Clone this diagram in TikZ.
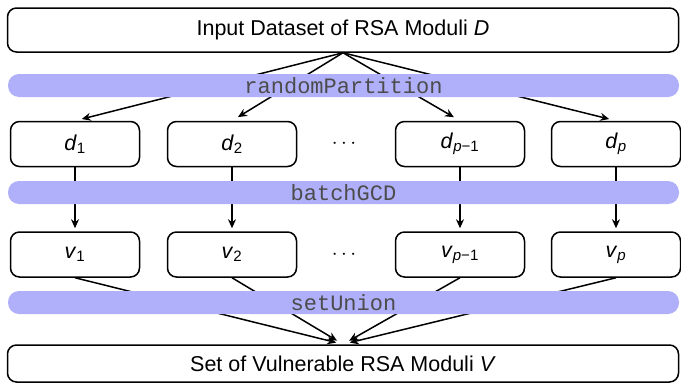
\documentclass[tikz,border=0pt]{standalone}
\usepackage{fontspec}
\setmainfont{Liberation Sans}
\newfontfamily\bandfont{Liberation Mono}
\usetikzlibrary{arrows.meta}
\definecolor{bandcol}{RGB}{176,176,250}
\newcommand\msub[2]{\textit{#1}\textsubscript{#2}}
\begin{document}
\begin{tikzpicture}[x=1pt,y=-1pt,
  box/.style={draw=black,line width=1.5pt,rounded corners=9pt,minimum height=45pt,inner sep=0pt,font=\fontsize{21.5}{24}\selectfont},
  part/.style={box,minimum width=129pt},
  band/.style={fill=bandcol,rounded corners=11pt,minimum width=671pt,minimum height=23pt,inner sep=0pt,text=black!70,font=\bandfont\fontsize{22}{22}\selectfont},
  conn/.style={line width=1.5pt,-{Stealth[length=9pt,width=8pt]}}]
\useasboundingbox (0,0) rectangle (681,383);
\node[box,minimum width=671pt,minimum height=44pt] (D) at (343,30) {Input Dataset of RSA Moduli \textit{D}};
\node[part] (d1) at (75,144) {\msub{d}{1}};
\node[part] (d2) at (232,144) {\msub{d}{2}};
\node[font=\fontsize{21}{22}\selectfont] (dd) at (344,144) {$\cdots$};
\node[part] (d3) at (460,144) {\msub{d}{\textit{p}−1}};
\node[part] (d4) at (616,144) {\msub{d}{\textit{p}}};
\node[part] (v1) at (75,254.5) {\msub{v}{1}};
\node[part] (v2) at (232,254.5) {\msub{v}{2}};
\node[font=\fontsize{21}{22}\selectfont] (vd) at (344,254.5) {$\cdots$};
\node[part] (v3) at (460,254.5) {\msub{v}{\textit{p}−1}};
\node[part] (v4) at (616,254.5) {\msub{v}{\textit{p}}};
\node[box,minimum width=671pt,minimum height=37pt] (V) at (343,363.5) {Set of Vulnerable RSA Moduli \textit{V}};
\foreach \n in {d1,d2,d3,d4}
  \draw[conn,shorten >=7pt] (D.south) -- (\n.north);
\foreach \a/\b in {d1/v1,d2/v2,d3/v3,d4/v4}
  \draw[conn,shorten >=3pt] (\a.south) -- (\b.north);
\foreach \n in {v1,v2,v3,v4}
  \draw[conn,shorten >=7pt] (\n.south) -- (V.north);
\node[band] (b1) at (343.5,85.5) {randomPartition};
\node[band] (b2) at (343.5,192.5) {batchGCD};
\node[band] (b3) at (343.5,302.5) {setUnion};
\end{tikzpicture}
\end{document}
